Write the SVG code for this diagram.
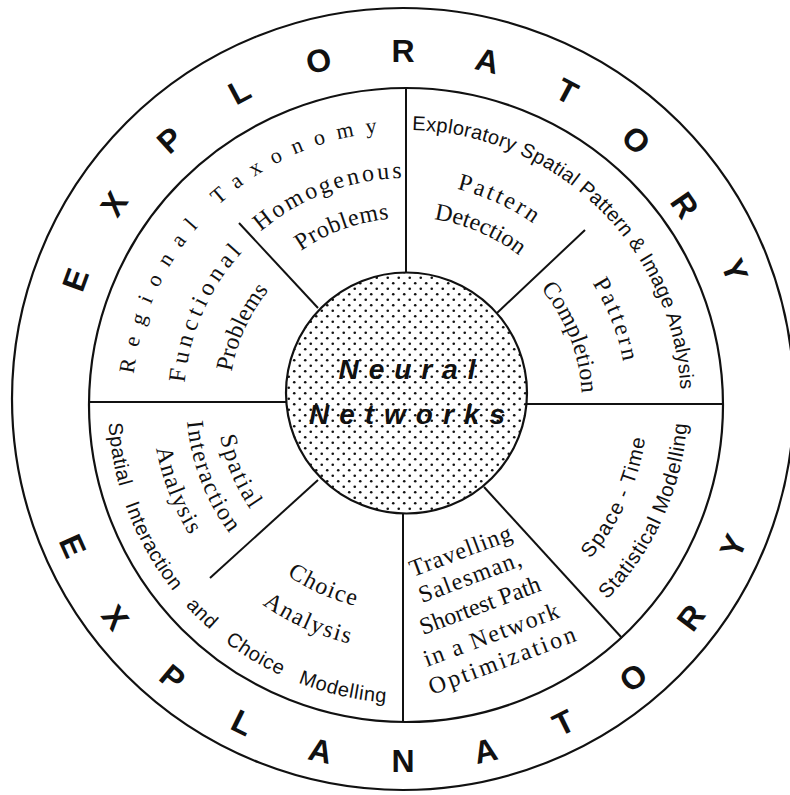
<svg xmlns="http://www.w3.org/2000/svg" width="790" height="795" viewBox="0 0 790 795">
<style>
.ring{fill:none;stroke:#111;stroke-width:2.2}
.conn line{stroke:#111;stroke-width:2}
.big{font-family:"Liberation Sans",Arial,sans-serif;font-weight:bold;font-size:32px;fill:#111;text-anchor:middle}
.ser{font-family:"Liberation Serif","Times New Roman",serif;font-size:24px;fill:#111}
.sans{font-family:"Liberation Sans",Arial,sans-serif;font-size:20.5px;fill:#111}
.ringsans{font-family:"Liberation Sans",Arial,sans-serif;font-size:20px;fill:#111}
.ringser{font-family:"Liberation Serif","Times New Roman",serif;font-size:22px;fill:#111}
.nn{font-family:"Liberation Sans",Arial,sans-serif;font-weight:bold;font-style:italic;font-size:28px;letter-spacing:10px;text-anchor:middle;fill:#111}
</style>
<defs>
<pattern id="dots" width="11" height="11" patternUnits="userSpaceOnUse"><circle cx="2.75" cy="2.75" r="1.3" fill="#111"/><circle cx="8.25" cy="8.25" r="1.3" fill="#111"/></pattern>
<path id="t222" d="M -192.3 -111 A 222 222 0 0 1 192.3 -111"/>
<path id="t177" d="M -153.3 -88.5 A 177 177 0 0 1 153.3 -88.5"/>
<path id="t224" d="M -194 -112 A 224 224 0 0 1 194 -112"/>
<path id="t184" d="M -159.3 -92 A 184 184 0 0 1 159.3 -92"/>
<path id="t219" d="M -189.7 -109.5 A 219 219 0 0 1 189.7 -109.5"/>
<path id="t185" d="M -160.2 -92.5 A 185 185 0 0 1 160.2 -92.5"/>
<path id="t221" d="M -191.4 -110.5 A 221 221 0 0 1 191.4 -110.5"/>
<path id="t176" d="M -152.4 -88 A 176 176 0 0 1 152.4 -88"/>
<path id="b189" d="M -163.7 94.5 A 189 189 0 0 0 163.7 94.5"/>
<path id="b220" d="M -190.5 110 A 220 220 0 0 0 190.5 110"/>
<path id="b254" d="M -220 127 A 254 254 0 0 0 220 127"/>
<path id="b210" d="M -181.9 105 A 210 210 0 0 0 181.9 105"/>
<path id="b248" d="M -214.8 124 A 248 248 0 0 0 214.8 124"/>
<path id="b242" d="M -209.6 121 A 242 242 0 0 0 209.6 121"/>
<path id="b282" d="M -244.2 141 A 282 282 0 0 0 244.2 141"/>
<path id="arcRT" d="M 132 405 A 274 274 0 0 1 406 131"/>
<path id="arcEX" d="M 406 130 A 275 275 0 0 1 681 405"/>
<path id="arcSI" d="M 108 405 A 298 298 0 0 0 406 703"/>
</defs>

<g id="outer-ring">
<circle class="ring" cx="403" cy="399" r="391"/>
<g id="exploratory" class="big">
<text transform="translate(75,279.6) rotate(-70)" y="11.5">E</text>
<text transform="translate(113.7,203.8) rotate(-56)" y="11.5">X</text>
<text transform="translate(169.5,139.7) rotate(-42)" y="11.5">P</text>
<text transform="translate(239.1,90.9) rotate(-28)" y="11.5">L</text>
<text transform="translate(318.6,60.4) rotate(-14)" y="11.5">O</text>
<text transform="translate(403,50)" y="11.5">R</text>
<text transform="translate(487.4,60.4) rotate(14)" y="11.5">A</text>
<text transform="translate(566.9,90.9) rotate(28)" y="11.5">T</text>
<text transform="translate(636.5,139.7) rotate(42)" y="11.5">O</text>
<text transform="translate(685,205) rotate(55.5)" y="11.5">R</text>
<text transform="translate(735,270) rotate(69)" y="11.5">Y</text>
</g>
<g id="explanatory" class="big">
<text transform="translate(73.2,545.8) rotate(66)" y="11.5">E</text>
<text transform="translate(115.5,617.3) rotate(52.8)" y="11.5">X</text>
<text transform="translate(172.9,677.1) rotate(39.6)" y="11.5">P</text>
<text transform="translate(242.5,722.3) rotate(26.4)" y="11.5">L</text>
<text transform="translate(320.6,750.5) rotate(13.2)" y="11.5">A</text>
<text transform="translate(403,760)" y="11.5">N</text>
<text transform="translate(485.4,750.5) rotate(-13.2)" y="11.5">A</text>
<text transform="translate(563.5,722.3) rotate(-26.4)" y="11.5">T</text>
<text transform="translate(633.1,677.1) rotate(-39.6)" y="11.5">O</text>
<text transform="translate(690.5,617.3) rotate(-52.8)" y="11.5">R</text>
<text transform="translate(732.8,545.8) rotate(-66)" y="11.5">Y</text>
</g>
</g>

<g id="middle-ring">
<circle class="ring" cx="406" cy="405" r="317"/>
</g>

<g id="connectors" class="conn">
<line x1="406" y1="88" x2="406" y2="273"/>
<line x1="403" y1="513" x2="403" y2="722"/>
<line x1="90" y1="402" x2="286" y2="402"/>
<line x1="527" y1="404" x2="723" y2="404"/>
<line x1="239" y1="223" x2="318" y2="308"/>
<line x1="585" y1="230" x2="497" y2="313"/>
<line x1="210" y1="578" x2="318" y2="480"/>
<line x1="484" y1="487" x2="622" y2="638"/>
</g>

<g id="center">
<circle cx="406.5" cy="393" r="120.5" fill="url(#dots)" stroke="#111" stroke-width="2.2"/>
<text class="nn" x="412" y="379">Neural</text>
<text class="nn" x="412" y="424">Networks</text>
</g>

<g id="regional-taxonomy">
<text class="ringser" letter-spacing="12"><textPath href="#arcRT" startOffset="31">Regional Taxonomy</textPath></text>
</g>

<g id="functional-problems" class="ser" text-anchor="middle">
<g transform="translate(406,402) rotate(-65.7)"><text letter-spacing="4.7"><textPath href="#t222" startOffset="50%">Functional</textPath></text></g>
<g transform="translate(406,402) rotate(-65.5)"><text letter-spacing="0"><textPath href="#t177" startOffset="50%">Problems</textPath></text></g>
</g>

<g id="homogenous-problems" class="ser" text-anchor="middle">
<g transform="translate(406,402) rotate(-20.4)"><text letter-spacing="2.9"><textPath href="#t224" startOffset="50%">Homogenous</textPath></text></g>
<g transform="translate(406,402) rotate(-20)"><text letter-spacing="0.6"><textPath href="#t184" startOffset="50%">Problems</textPath></text></g>
</g>

<g id="exploratory-spatial-analysis">
<text class="ringsans" letter-spacing="0.3"><textPath href="#arcEX" startOffset="6">Exploratory Spatial Pattern &amp; Image Analysis</textPath></text>
</g>

<g id="pattern-detection" class="ser" text-anchor="middle">
<g transform="translate(406,402) rotate(24.8)"><text letter-spacing="2.7"><textPath href="#t219" startOffset="50%">Pattern</textPath></text></g>
<g transform="translate(406,402) rotate(23.2)"><text letter-spacing="0"><textPath href="#t185" startOffset="50%">Detection</textPath></text></g>
</g>

<g id="pattern-completion" class="ser" text-anchor="middle">
<g transform="translate(406,402) rotate(68.8)"><text letter-spacing="2.8"><textPath href="#t221" startOffset="50%">Pattern</textPath></text></g>
<g transform="translate(406,402) rotate(68.5)"><text letter-spacing="0.1"><textPath href="#t176" startOffset="50%">Completion</textPath></text></g>
</g>

<g id="spatial-interaction-analysis" class="ser" text-anchor="middle">
<g transform="translate(406,402) rotate(67.2)"><text letter-spacing="2.2"><textPath href="#b189" startOffset="50%">Spatial</textPath></text></g>
<g transform="translate(406,402) rotate(68.9)"><text letter-spacing="1.7"><textPath href="#b220" startOffset="50%">Interaction</textPath></text></g>
<g transform="translate(406,402) rotate(68.8)"><text letter-spacing="1.3"><textPath href="#b254" startOffset="50%">Analysis</textPath></text></g>
</g>

<g id="spatial-interaction-choice-modelling">
<text class="ringsans" letter-spacing="0.6" word-spacing="12"><textPath href="#arcSI" startOffset="18">Spatial Interaction and Choice Modelling</textPath></text>
</g>

<g id="choice-analysis" class="ser" text-anchor="middle">
<g transform="translate(406,402) rotate(24.1)"><text letter-spacing="1.4"><textPath href="#b210" startOffset="50%">Choice</textPath></text></g>
<g transform="translate(406,402) rotate(24.1)"><text letter-spacing="1.7"><textPath href="#b248" startOffset="50%">Analysis</textPath></text></g>
</g>

<g id="travelling-salesman" class="ser">
<text transform="translate(413,577) rotate(-20.5)" letter-spacing="0.9">Travelling</text>
<text transform="translate(422,603) rotate(-20.5)" letter-spacing="1.25">Salesman,</text>
<text transform="translate(423,635) rotate(-20.5)" letter-spacing="0">Shortest Path</text>
<text transform="translate(427,667) rotate(-20.5)" letter-spacing="1.6">in a Network</text>
<text transform="translate(432,695) rotate(-20.5)" letter-spacing="2.6">Optimization</text>
</g>

<g id="space-time-modelling" class="sans" text-anchor="middle">
<g transform="translate(406,402) rotate(-65.6)"><text letter-spacing="1.2"><textPath href="#b242" startOffset="50%">Space - Time</textPath></text></g>
<g transform="translate(406,402) rotate(-65.6)"><text letter-spacing="0.8"><textPath href="#b282" startOffset="50%">Statistical Modelling</textPath></text></g>
</g>
</svg>
